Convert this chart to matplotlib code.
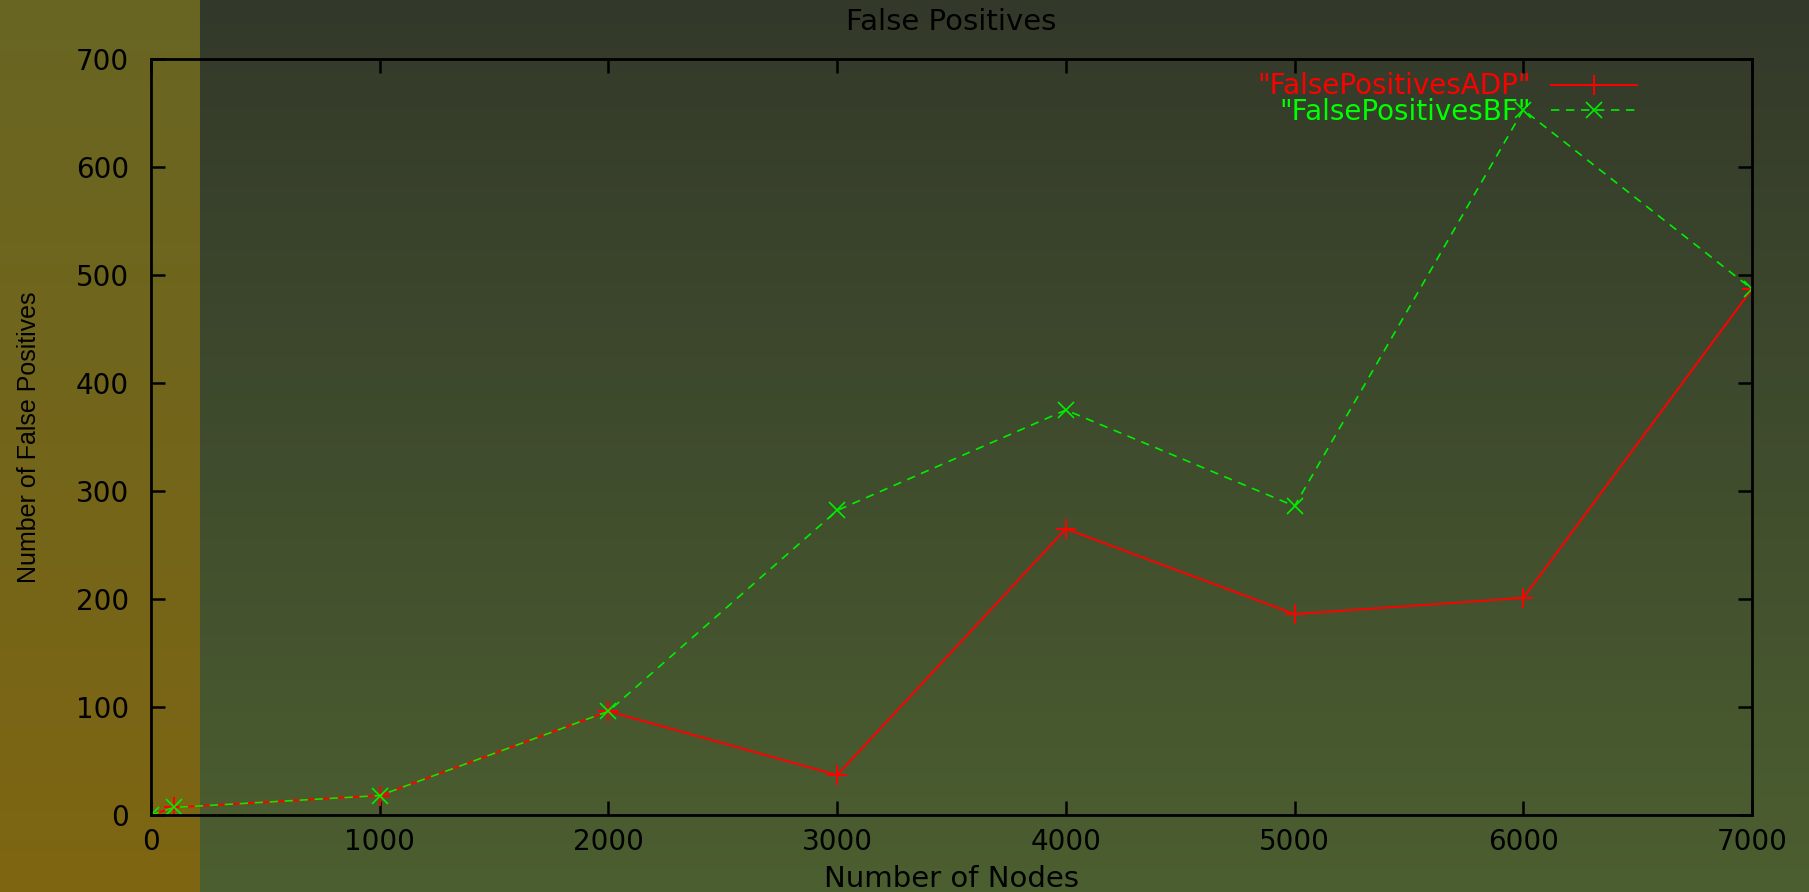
import numpy as np
import matplotlib
matplotlib.use("Agg")
import matplotlib.pyplot as plt

# data
nodes = [0, 100, 1000, 2000, 3000, 4000, 5000, 6000, 7000]
fp_adp = [0, 7, 18, 96, 37, 265, 186, 201, 487]
fp_bf = [0, 7, 18, 96, 282, 375, 286, 653, 487]
xticks = [0, 1000, 2000, 3000, 4000, 5000, 6000, 7000]
yticks = [0, 100, 200, 300, 400, 500, 600, 700]

plt.rcParams['font.family'] = ['DejaVu Sans']

W, H = 1809, 892
fig = plt.figure(figsize=(W / 100, H / 100), dpi=100)

# background: two vertical gradients
t = np.linspace(0, 1, H)[:, None]
left_top, left_bot = np.array([104, 102, 35]), np.array([126, 101, 18])
right_top, right_bot = np.array([51, 57, 42]), np.array([76, 95, 48])
img = np.zeros((H, W, 3))
split = 200
img[:, :split] = (left_top + (left_bot - left_top) * t)[:, None, :]
img[:, split:] = (right_top + (right_bot - right_top) * t)[:, None, :]
bg = fig.add_axes([0, 0, 1, 1], zorder=-1)
bg.imshow(img / 255.0, aspect='auto', extent=[0, 1, 0, 1])
bg.axis('off')

ax = fig.add_axes([151 / W, 1 - 815 / H, (1752 - 151) / W, (815 - 59) / H])
ax.patch.set_alpha(0)

ax.plot(nodes, fp_adp, color='#ff0000', lw=1.4, marker='+', ms=14, mew=1.4,
        label='"FalsePositivesADP"')
ax.plot(nodes, fp_bf, color='#00ee00', lw=1.2, ls=(0, (5, 4)), marker='x', ms=11,
        mew=1.2, label='"FalsePositivesBF"')

ax.set_xlim(0, 7000)
ax.set_ylim(0, 700)
ax.set_xticks(xticks)
ax.set_yticks(yticks)
ax.tick_params(direction='in', length=10, width=1.8, top=True, right=True,
               labelsize=20, colors='black')
ax.tick_params(axis='y', pad=16)
ax.tick_params(axis='x', pad=9)
for s in ax.spines.values():
    s.set_linewidth(2)
    s.set_color('black')

ax.set_title('False Positives', fontsize=21, pad=21)
ax.set_xlabel('Number of Nodes', fontsize=21, labelpad=7)
ax.set_ylabel('Number of False Positives', fontsize=18, family='Liberation Sans')
ax.yaxis.set_label_coords(-0.069, 0.5)

leg = ax.legend(loc='upper right', frameon=False, markerfirst=False, fontsize=20,
                handlelength=3.1, handletextpad=0.7, labelspacing=-0.1,
                borderaxespad=0.0, bbox_to_anchor=(0.935, 0.997))
for txt, c in zip(leg.get_texts(), ['#ff0000', '#00ff00']):
    txt.set_color(c)

fig.savefig('out.png', dpi=100)
